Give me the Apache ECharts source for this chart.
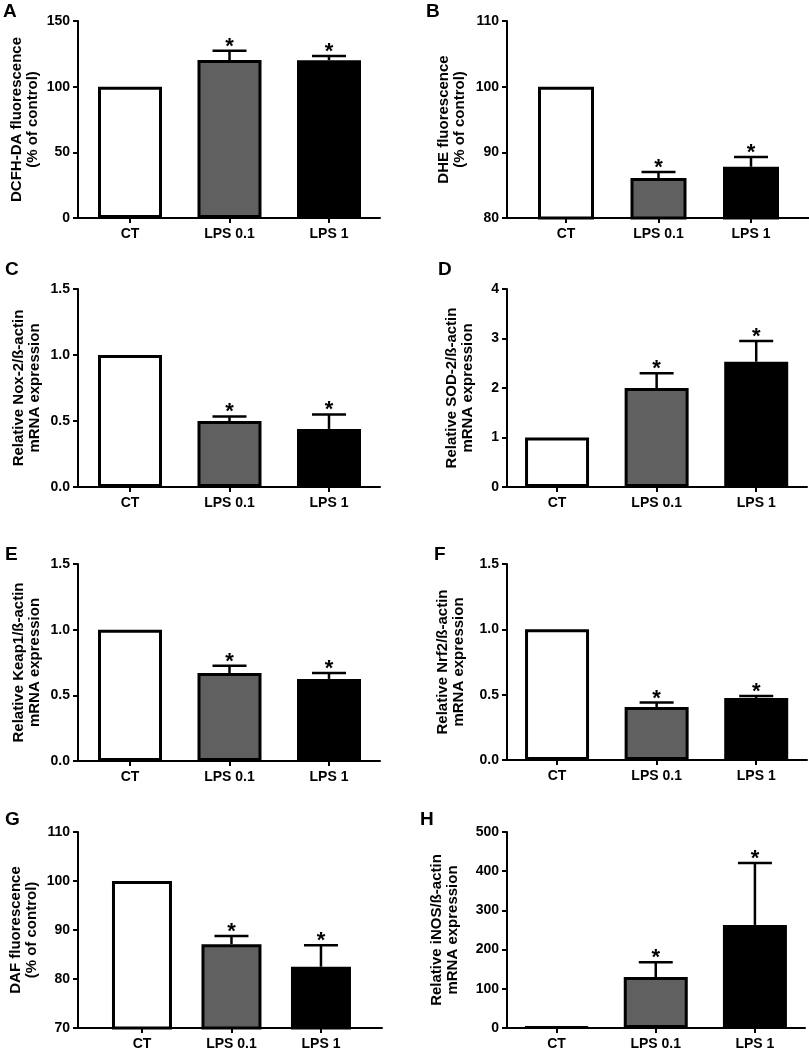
<!DOCTYPE html>
<html>
<head>
<meta charset="utf-8">
<script src="https://cdn.jsdelivr.net/npm/echarts@6/dist/echarts.min.js"></script>
<style>
html,body{margin:0;padding:0;background:#fff;}
#chart{width:809px;height:1052px;}
</style>
</head>
<body>
<div id="chart"></div>
<script>
// ---------- data ----------
const categories = ['CT', 'LPS 0.1', 'LPS 1'];
const significant = [false, true, true];

const dcfhMean = [100, 120.3, 120.2];
const dcfhSem  = [0, 7.0, 3.2];
const dcfhTicks = [0, 50, 100, 150];

const dheMean = [100, 86.1, 87.8];
const dheSem  = [0, 0.9, 1.5];
const dheTicks = [80, 90, 100, 110];

const nox2Mean = [1.0, 0.50, 0.44];
const nox2Sem  = [0, 0.035, 0.11];
const nox2Ticks = [0, 0.5, 1.0, 1.5];

const sod2Mean = [1.0, 2.0, 2.53];
const sod2Sem  = [0, 0.30, 0.42];
const sod2Ticks = [0, 1, 2, 3, 4];

const keap1Mean = [1.0, 0.67, 0.625];
const keap1Sem  = [0, 0.055, 0.045];
const keap1Ticks = [0, 0.5, 1.0, 1.5];

const nrf2Mean = [1.0, 0.405, 0.475];
const nrf2Sem  = [0, 0.035, 0.015];
const nrf2Ticks = [0, 0.5, 1.0, 1.5];

const dafMean = [100, 87.1, 82.5];
const dafSem  = [0, 1.7, 4.4];
const dafTicks = [70, 80, 90, 100, 110];

const inosMean = [2, 130, 263];
const inosSem  = [0, 38, 158];
const inosTicks = [0, 100, 200, 300, 400, 500];

// ---------- layout / style ----------
const FONT = '"Liberation Sans", Arial, Helvetica, sans-serif';
const fills = ['#ffffff', '#606060', '#000000'];

const panels = [
  {letter:'A', lx:3,  ly:2,   mean:dcfhMean, sem:dcfhSem, ticks:dcfhTicks, dec:0,
   name:'DCFH-DA fluorescence\n(% of control)', left:78, top:21, width:302, height:197,
   xmin:-0.5226, xmax:2.5126, barW:64, cap:34, nameGap:37},
  {letter:'B', lx:426, ly:2,  mean:dheMean, sem:dheSem, ticks:dheTicks, dec:0,
   name:'DHE fluorescence\n(% of control)', left:507, top:21, width:302, height:197,
   xmin:-0.638, xmax:2.627, barW:56, cap:34, nameGap:39},
  {letter:'C', lx:5,  ly:260, mean:nox2Mean, sem:nox2Sem, ticks:nox2Ticks, dec:1,
   name:'Relative Nox-2/ß-actin\nmRNA expression', left:78, top:289, width:302, height:198,
   xmin:-0.5226, xmax:2.5126, barW:64, cap:34, nameGap:35},
  {letter:'D', lx:438, ly:260, mean:sod2Mean, sem:sod2Sem, ticks:sod2Ticks, dec:0,
   name:'Relative SOD-2/ß-actin\nmRNA expression', left:507, top:289, width:300, height:198,
   xmin:-0.5025, xmax:2.51, barW:64, cap:34, nameGap:31},
  {letter:'E', lx:5,  ly:545, mean:keap1Mean, sem:keap1Sem, ticks:keap1Ticks, dec:1,
   name:'Relative Keap1/ß-actin\nmRNA expression', left:78, top:564, width:302, height:197,
   xmin:-0.5226, xmax:2.5126, barW:64, cap:34, nameGap:35},
  {letter:'F', lx:434, ly:545, mean:nrf2Mean, sem:nrf2Sem, ticks:nrf2Ticks, dec:1,
   name:'Relative Nrf2/ß-actin\nmRNA expression', left:507, top:564, width:300, height:196,
   xmin:-0.5025, xmax:2.51, barW:64, cap:34, nameGap:40},
  {letter:'G', lx:5,  ly:810, mean:dafMean, sem:dafSem, ticks:dafTicks, dec:0,
   name:'DAF fluorescence\n(% of control)', left:78, top:832, width:304, height:196,
   xmin:-0.715, xmax:2.682, barW:60, cap:34, nameGap:38},
  {letter:'H', lx:420, ly:810, mean:inosMean, sem:inosSem, ticks:inosTicks, dec:0,
   name:'Relative iNOS/ß-actin\nmRNA expression', left:507, top:832, width:298, height:196,
   xmin:-0.5, xmax:2.505, barW:64, cap:34, nameGap:46}
];

const option = {
  animation: false,
  backgroundColor: '#ffffff',
  title: [], grid: [], xAxis: [], yAxis: [], series: []
};

panels.forEach((p, i) => {
  option.title.push({
    text: p.letter, left: p.lx, top: p.ly, padding: 0,
    textStyle: {fontFamily: FONT, fontSize: 19, fontWeight: 'bold', color: '#000'}
  });
  option.grid.push({left: p.left, top: p.top, width: p.width, height: p.height, containLabel: false});
  const idx = categories.map((c, k) => k);
  option.xAxis.push({
    type: 'value', gridIndex: i, min: p.xmin, max: p.xmax,
    axisLine: {show: true, onZero: false, lineStyle: {color: '#000', width: 2}},
    axisTick: {show: true, length: 5, lineStyle: {color: '#000', width: 2}, customValues: idx},
    axisLabel: {show: true, customValues: idx, margin: 9,
      formatter: v => categories[Math.round(v)] || '',
      fontFamily: FONT, fontSize: 14, fontWeight: 'bold', color: '#000'},
    splitLine: {show: false}
  });
  const tmin = p.ticks[0], tmax = p.ticks[p.ticks.length - 1];
  option.yAxis.push({
    type: 'value', gridIndex: i, min: tmin, max: tmax, interval: p.ticks[1] - p.ticks[0],
    name: p.name, nameLocation: 'middle', nameGap: p.nameGap,
    nameTextStyle: {fontFamily: FONT, fontSize: 15, fontWeight: 'bold', color: '#000', lineHeight: 16, align: 'center'},
    axisLine: {show: true, onZero: false, lineStyle: {color: '#000', width: 2}},
    axisTick: {show: true, length: 5, lineStyle: {color: '#000', width: 2}},
    axisLabel: {margin: 8, fontFamily: FONT, fontSize: 14, fontWeight: 'bold', color: '#000',
      formatter: v => v.toFixed(p.dec)},
    splitLine: {show: false}
  });
  option.series.push({
    type: 'bar', xAxisIndex: i, yAxisIndex: i, barWidth: p.barW,
    data: p.mean.map((v, k) => ({value: [k, v],
      itemStyle: {color: fills[k], borderColor: '#000', borderWidth: 3}})),
    z: 2
  });
  const cap = p.cap;
  option.series.push({
    type: 'custom', xAxisIndex: i, yAxisIndex: i, z: 3,
    data: p.mean.map((v, k) => [k, v, p.sem[k], significant[k] ? 1 : 0]),
    renderItem: (params, api) => {
      const x = api.value(0), m = api.value(1), e = api.value(2), s = api.value(3);
      const p0 = api.coord([x, m]);
      const p1 = api.coord([x, m + e]);
      const ch = [];
      if (e > 0) {
        ch.push({type: 'line', shape: {x1: p0[0], y1: p0[1], x2: p1[0], y2: p1[1]},
          style: {stroke: '#000', lineWidth: 2.5}});
        ch.push({type: 'line', shape: {x1: p1[0] - cap / 2, y1: p1[1], x2: p1[0] + cap / 2, y2: p1[1]},
          style: {stroke: '#000', lineWidth: 2.5}});
      }
      if (s) {
        ch.push({type: 'text', x: p1[0], y: p1[1] - 4,
          style: {text: '*', fill: '#000', font: 'bold 22px ' + FONT, align: 'center', verticalAlign: 'middle'}});
      }
      return {type: 'group', children: ch};
    }
  });
});

const chart = echarts.init(document.getElementById('chart'), null, {renderer: 'canvas'});
chart.setOption(option);
</script>
</body>
</html>
